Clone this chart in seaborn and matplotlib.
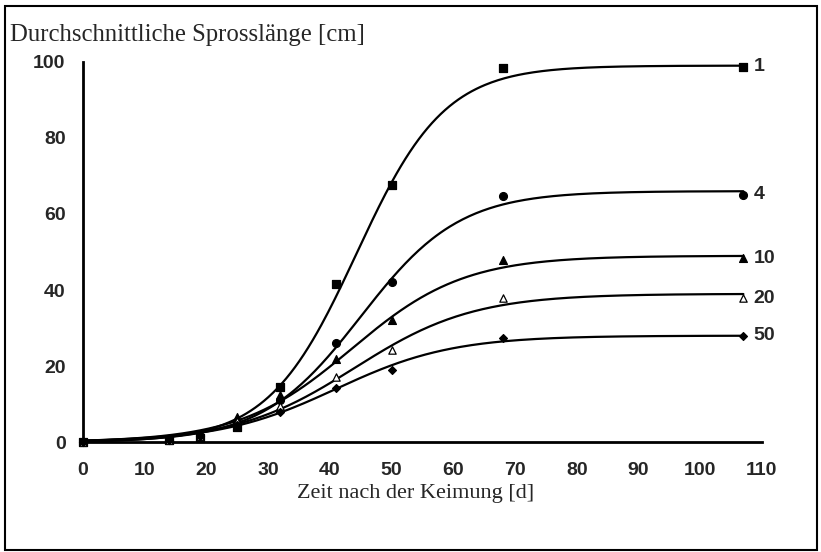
import numpy as np
import pandas as pd
import matplotlib
matplotlib.use("Agg")
import matplotlib.pyplot as plt
from matplotlib.patches import Rectangle
import seaborn as sns

# Messzeitpunkte (Tage nach der Keimung)
tage = [0, 14, 19, 25, 32, 41, 50, 68, 107]

# Mittlere Sprosslaenge [cm] je Pflanzdichte
dichten = ["1", "4", "10", "20", "50"]
laenge_1 = [0, 0.5, 1.0, 4.0, 14.5, 41.5, 67.5, 98.3, 98.7]
laenge_4 = [0, 0.5, 1.5, 5.0, 11.0, 26.0, 42.2, 64.8, 65.0]
laenge_10 = [0, 0.5, 1.5, 6.5, 12.5, 21.8, 32.2, 48.0, 48.4]
laenge_20 = [0, 0.5, 1.5, 5.5, 9.5, 17.0, 24.2, 37.8, 37.8]
laenge_50 = [0, 0.5, 1.5, 4.5, 8.0, 14.3, 19.0, 27.5, 28.0]

# Parameter der logistischen Anpassungskurven (K, r, t_mitte)
fit_k = [99.0, 66.0, 49.0, 39.0, 28.0]
fit_r = [0.14, 0.125, 0.11, 0.104, 0.106]
fit_t0 = [44.3, 45.0, 43.5, 44.0, 41.0]

x_ticks = list(range(0, 111, 10))
y_ticks = list(range(0, 101, 20))

alle = [laenge_1, laenge_4, laenge_10, laenge_20, laenge_50]
punkte = pd.DataFrame({
    "tag": tage * len(dichten),
    "laenge": sum(alle, []),
    "dichte": np.repeat(dichten, len(tage)),
})

t_fit = np.linspace(0, tage[-1], 300)
kurven = pd.concat([
    pd.DataFrame({"tag": t_fit,
                  "laenge": k / (1 + np.exp(-r * (t_fit - t0))),
                  "dichte": d})
    for d, k, r, t0 in zip(dichten, fit_k, fit_r, fit_t0)
])

sns.set_style("white")
plt.rcParams["font.family"] = ["Liberation Sans", "DejaVu Sans"]

fig = plt.figure(figsize=(8.21, 5.52), dpi=100)
ax = fig.add_axes([0.101, 0.199, 0.827, 0.689])

sns.lineplot(data=kurven, x="tag", y="laenge", units="dichte", estimator=None,
             color="black", linewidth=1.6, ax=ax, legend=False)

marker_map = {"1": "s", "4": "o", "10": "^", "20": "^", "50": "D"}
size_map = {"1": 30, "4": 32, "10": 32, "20": 28, "50": 16}
for d, werte in zip(dichten, alle):
    sub = punkte[punkte["dichte"] == d]
    face = "white" if d == "20" else "black"
    sns.scatterplot(data=sub, x="tag", y="laenge", marker=marker_map[d],
                    s=size_map[d], color=face, edgecolor="black",
                    linewidth=0.9, ax=ax, legend=False, zorder=3, clip_on=False)
    ax.text(tage[-1] + 1.7, werte[-1], d, fontsize=14, fontweight="bold",
            va="center", ha="left")

ax.set_xlim(0, 110)
ax.set_ylim(0, 100)
ax.set_xticks(x_ticks)
ax.set_yticks(y_ticks)
ax.tick_params(axis="both", direction="inout", length=9, width=1.5,
               labelsize=14, color="black")
ax.tick_params(axis="x", pad=10)
ax.tick_params(axis="y", pad=8)
for lab in ax.get_xticklabels() + ax.get_yticklabels():
    lab.set_fontweight("bold")
ax.spines["top"].set_visible(False)
ax.spines["right"].set_visible(False)
for s in ["left", "bottom"]:
    ax.spines[s].set_linewidth(2)
    ax.spines[s].set_color("black")

ax.set_xlabel("Zeit nach der Keimung [d]", fontsize=16,
              family=["Liberation Serif", "DejaVu Serif"])
ax.xaxis.set_label_coords(0.49, -0.11)
ax.set_ylabel("")
fig.text(0.012, 0.937, "Durchschnittliche Sprosslänge [cm]", fontsize=17.8,
         family=["Liberation Serif", "DejaVu Serif"], ha="left", va="center")

fig.patches.append(Rectangle((5 / 821, 2 / 552), 812 / 821, 544 / 552,
                             transform=fig.transFigure, fill=False,
                             edgecolor="black", linewidth=1.5))

fig.savefig("out.png", dpi=100)
